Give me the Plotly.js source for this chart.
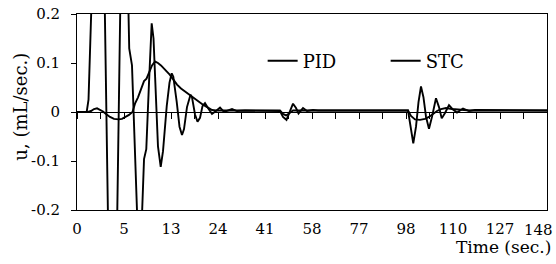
<!DOCTYPE html>
<html>
<head>
<meta charset="utf-8">
<script src="https://cdn.plot.ly/plotly-3.0.1.min.js"></script>
<style>html,body{margin:0;padding:0;background:#fff;}#chart{width:556px;height:264px;}</style>
</head>
<body>
<div id="chart"></div>
<script>
// sample index (category position, 10 per labelled tick) and control action u (mL/sec.)
var pidX = [0,2.06,2.45,3.40,5.53,6.81,8.30,9.57,10.43,11.11,11.70,13.30,14.26,14.74,15.32,15.89,16.28,16.81,17.23,17.81,18.30,19.09,19.68,20.15,20.49,21.21,21.81,22.34,22.77,23.40,24.15,24.47,25.11,25.64,26.17,26.70,27.23,27.87,28.72,29.57,30.43,31.28,32.13,32.98,34.04,35.74,43.19,43.83,44.57,45.21,45.96,46.60,47.13,48.09,48.94,50.21,51.28,70.43,70.96,71.55,72.13,72.66,73.19,73.72,74.26,74.89,75.53,76.38,77.02,77.60,78.30,79.15,80.00,80.85,82.13,83.40,84.68,100];
var pidU = [0,0,0.025,0.32,0.45,-0.35,-0.38,0.45,0.45,0.13,0.095,-0.35,-0.096,-0.076,0.06,0.181,0.15,0.01,-0.07,-0.112,-0.08,0.012,0.06,0.079,0.072,0.021,-0.03,-0.047,-0.035,0.01,0.035,0.03,-0.005,-0.02,-0.012,0.012,0.018,0.008,-0.004,0.002,0.009,0.0,0.003,0.006,0.002,0.003,0.002,-0.01,-0.016,-0.002,0.017,0.008,-0.003,0.008,0.002,0.004,0.003,0.003,-0.03,-0.064,-0.03,0.02,0.052,0.03,-0.01,-0.034,-0.01,0.028,0.01,-0.013,-0.002,0.014,0.005,-0.001,0.007,0.002,0.004,0.003];
var stcX = [0,2.34,2.98,3.62,4.26,4.89,5.53,6.17,7.02,7.87,8.83,9.57,10.43,11.06,11.81,12.34,12.98,13.62,14.26,14.79,15.32,15.96,16.60,17.23,17.87,18.72,19.57,20.43,21.28,22.13,22.98,23.83,24.68,25.74,26.81,27.87,28.72,29.57,43.19,43.83,44.47,45.11,45.96,70.43,71.06,71.91,72.98,74.04,74.89,75.74,76.60,77.45,78.51,79.79,81.49,83.62,100];
var stcU = [0,0,0.002,0.006,0.0075,0.005,0.001,-0.004,-0.01,-0.014,-0.015,-0.014,-0.01,-0.006,0,0.017,0.03,0.048,0.063,0.068,0.08,0.095,0.103,0.1,0.095,0.087,0.078,0.067,0.056,0.048,0.042,0.036,0.029,0.021,0.015,0.009,0.004,0.003,0.003,-0.004,-0.007,-0.003,0.003,0.003,-0.008,-0.015,-0.016,-0.014,-0.01,-0.004,0.002,0.006,0.008,0.006,0.004,0.003,0.003];
var timeLabels = ['0','5','13','24','41','58','77','98','110','127','148'];
var yTicks = [-0.2,-0.1,0,0.1,0.2];
var yTickText = ['-0.2','-0.1','0','0.1','0.2'];

var FONT = 'DejaVu Serif, Liberation Serif, serif';
var nLab = timeLabels.length;
var xTickVals = timeLabels.map(function(_, i){ return i * 10; });
var xRange = [-0.001, 100.001];
var tickFont = {family: FONT, size: 15, color: '#000'};

var traces = [
  {x: pidX, y: pidU, name: 'PID', mode: 'lines', type: 'scatter',
   line: {color: '#000', width: 1.9}, xaxis: 'x', yaxis: 'y'},
  {x: stcX, y: stcU, name: 'STC', mode: 'lines', type: 'scatter',
   line: {color: '#000', width: 1.9}, xaxis: 'x2', yaxis: 'y'}
];

var layout = {
  width: 556, height: 264,
  margin: {l: 77, r: 9, t: 14, b: 54},
  paper_bgcolor: '#fff', plot_bgcolor: '#fff',
  font: {family: FONT, size: 15, color: '#000'},
  showlegend: true,
  legend: {orientation: 'h', x: 0.395, y: 0.76, xanchor: 'left', yanchor: 'middle',
    font: {family: FONT, size: 18, color: '#000'}, bgcolor: 'rgba(0,0,0,0)',
    entrywidth: 78, entrywidthmode: 'pixels', itemwidth: 30, tracegroupgap: 0},
  // bottom frame axis carrying the category labels (the last one is placed below so it stays on the page)
  xaxis: {range: xRange, tickmode: 'array', tickvals: xTickVals.slice(0, nLab - 1),
    ticktext: timeLabels.slice(0, nLab - 1),
    ticks: '', showgrid: false, zeroline: false, showline: true, mirror: true,
    linecolor: '#000', linewidth: 1, ticklabelstandoff: 5, tickfont: tickFont},
  // axis line through zero with the category tick marks
  xaxis2: {range: xRange, overlaying: 'x', anchor: 'free', position: 0.5, side: 'bottom',
    tickmode: 'linear', tick0: 0, dtick: 5, ticks: 'outside', ticklen: 6, tickcolor: '#000',
    tickwidth: 1, showticklabels: false, showgrid: false, zeroline: false,
    showline: true, linecolor: '#000', linewidth: 1},
  yaxis: {range: [-0.2, 0.2], tickmode: 'array', tickvals: yTicks, ticktext: yTickText,
    ticks: 'outside', ticklen: 5, tickcolor: '#000', showgrid: false, zeroline: false,
    showline: true, mirror: true, linecolor: '#000', linewidth: 1, ticklabelstandoff: 8,
    tickfont: tickFont},
  annotations: [
    {text: timeLabels[nLab - 1], xref: 'x', yref: 'paper', x: xTickVals[nLab - 1], y: -0.102,
     xanchor: 'right', yanchor: 'middle', xshift: 8, showarrow: false, font: tickFont},
    {text: 'u, (mL/sec.)', xref: 'paper', yref: 'paper', x: -0.121, y: 0.528,
     xanchor: 'center', yanchor: 'middle', textangle: -90, showarrow: false,
     font: {family: FONT, size: 18, color: '#000'}},
    {text: 'Time (sec.)', xref: 'paper', yref: 'paper', x: 1.013, y: -0.189,
     xanchor: 'right', yanchor: 'middle', showarrow: false,
     font: {family: FONT, size: 17, color: '#000'}}
  ]
};

Plotly.newPlot('chart', traces, layout, {displayModeBar: false, staticPlot: true});
</script>
</body>
</html>
